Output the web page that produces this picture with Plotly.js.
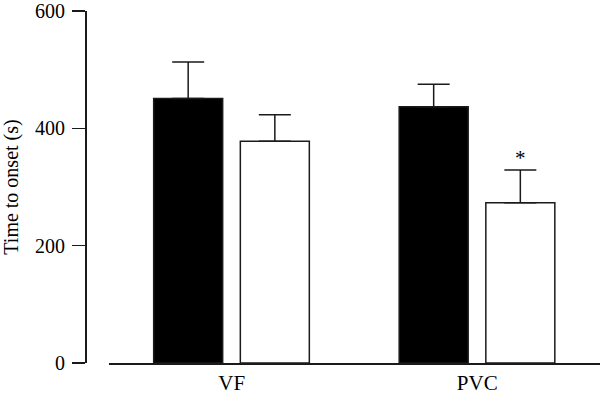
<!DOCTYPE html>
<html>
<head>
<meta charset="utf-8">
<script src="https://cdn.plot.ly/plotly-3.0.1.min.js"></script>
<style>html,body{margin:0;padding:0;background:#fff;}#chart{width:600px;height:394px;}</style>
</head>
<body>
<div id="chart"></div>
<script>
const categories = ["VF", "PVC"];
const seriesA = [451, 437];      // black bars
const seriesAErr = [62, 38];
const seriesB = [378, 273];      // white bars
const seriesBErr = [45, 56];
const yTicks = [0, 200, 400, 600];
const sigMarks = ["", "*"];      // significance marks on white bars

const lineColor = "#1a1a1a";
const fontFam = "'Liberation Serif', 'DejaVu Serif', serif";

const barWidth = 0.281;
const offA = -0.318, offB = 0.035;

function errBar(arr) {
  return {type: "data", symmetric: false, array: arr, arrayminus: arr.map(() => 0),
          color: lineColor, thickness: 1.5, width: 16};
}

const traceA = {
  type: "bar", x: categories, y: seriesA, width: barWidth, offset: offA,
  marker: {color: "#000000", line: {color: lineColor, width: 1.5}},
  error_y: errBar(seriesAErr), hoverinfo: "none"
};
const traceB = {
  type: "bar", x: categories, y: seriesB, width: barWidth, offset: offB,
  marker: {color: "#ffffff", line: {color: lineColor, width: 1.5}},
  error_y: errBar(seriesBErr), hoverinfo: "none"
};

const annotations = [];
sigMarks.forEach((m, i) => {
  if (m) {
    annotations.push({
      x: i + offB + barWidth / 2, xref: "x", y: seriesB[i] + seriesBErr[i], yref: "y",
      text: m, showarrow: false, yanchor: "bottom", yshift: -2,
      font: {family: fontFam, size: 21, color: "#000"}
    });
  }
});

const layout = {
  width: 600, height: 394,
  margin: {l: 85, r: 0, t: 11, b: 31},
  paper_bgcolor: "#fff", plot_bgcolor: "#fff",
  showlegend: false,
  barmode: "overlay",
  font: {family: fontFam, color: "#000", size: 19},
  xaxis: {
    domain: [0.0466, 1], range: [-0.5, 1.5],
    showline: true, linecolor: lineColor, linewidth: 1.5,
    ticks: "", showgrid: false, zeroline: false,
    tickfont: {family: fontFam, size: 21, color: "#000"},
    ticklabelstandoff: 0
  },
  yaxis: {
    anchor: "free", position: 0,
    range: [0, 600], tickvals: yTicks, ticktext: yTicks.map(String),
    showline: true, linecolor: lineColor, linewidth: 1.5,
    ticks: "outside", ticklen: 13, tickwidth: 1.5, tickcolor: lineColor,
    showgrid: false, zeroline: false,
    tickfont: {family: fontFam, size: 20, color: "#000"},
    ticklabelstandoff: 3,
    title: {text: "Time to onset (s)", font: {family: fontFam, size: 20, color: "#000"}, standoff: 9}
  },
  annotations: annotations
};

Plotly.newPlot("chart", [traceA, traceB], layout, {staticPlot: true, displayModeBar: false});
</script>
</body>
</html>
